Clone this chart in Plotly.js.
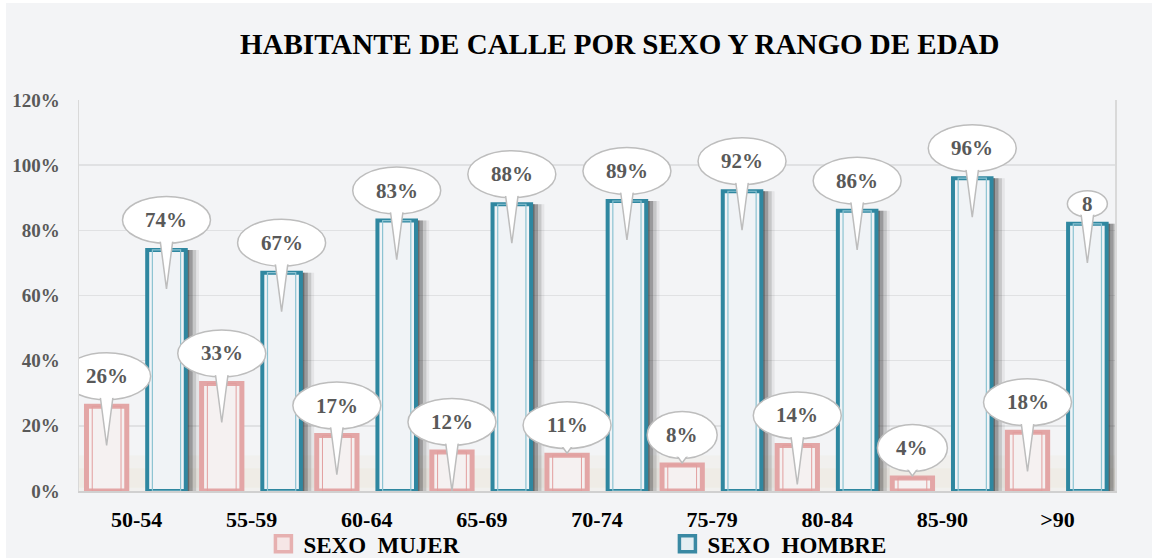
<!DOCTYPE html>
<html>
<head>
<meta charset="utf-8">
<script src="https://cdn.plot.ly/plotly-3.0.1.min.js"></script>
<style>html,body{margin:0;padding:0;background:#fff;}#chart{width:1152px;height:558px;}</style>
</head>
<body>
<div id="chart"></div>
<script>
// ---- data ----
const categories = ['50-54', '55-59', '60-64', '65-69', '70-74', '75-79', '80-84', '85-90', '>90'];
const mujer = [26, 33, 17, 12, 11, 8, 14, 4, 18];
const hombre = [74, 67, 83, 88, 89, 92, 86, 96, 82];
const mujerLabels = ['26%', '33%', '17%', '12%', '11%', '8%', '14%', '4%', '18%'];
const hombreLabels = ['74%', '67%', '83%', '88%', '89%', '92%', '86%', '96%', '8'];
const seriesNames = ['SEXO  MUJER', 'SEXO  HOMBRE'];

// ---- style ----
const FONT = 'Liberation Serif, DejaVu Serif, serif';
const pink = '#e3a6a6', pinkInner = '#e29e9e', pinkFill = '#f5f1f1';
const teal = '#2f87a0', tealInner = '#8cc3d2', tealFill = '#f0f3f6';
const mOff = -0.26, hOff = 0.26, mW = 0.35, hW = 0.335;
const mujerShortTail = [4, 5, 7];

const traces = [];
// shadows behind hombre bars
[[0.03, 'rgba(60,60,60,0.50)'], [0.06, 'rgba(60,60,60,0.32)'], [0.09, 'rgba(60,60,60,0.18)'], [0.115, 'rgba(60,60,60,0.08)']].forEach(function (s) {
  traces.push({
    type: 'bar', x: categories, y: hombre, showlegend: false, hoverinfo: 'skip',
    offset: hOff, width: hW / 2 + s[0],
    marker: {color: s[1], line: {width: 0}}
  });
});
traces.push({
  type: 'bar', name: seriesNames[0], x: categories, y: mujer, showlegend: false,
  offset: mOff - mW / 2, width: mW,
  marker: {color: pinkFill, line: {color: pink, width: 5}}
});
traces.push({
  type: 'bar', x: categories, y: mujer, showlegend: false, hoverinfo: 'skip',
  offset: mOff - mW / 2 + 0.05, width: mW - 0.1,
  marker: {color: 'rgba(0,0,0,0)', line: {color: pinkInner, width: 1}}
});
traces.push({
  type: 'bar', name: seriesNames[1], x: categories, y: hombre, showlegend: false,
  offset: hOff - hW / 2, width: hW,
  marker: {color: tealFill, line: {color: teal, width: 4}}
});
traces.push({
  type: 'bar', x: categories, y: hombre, showlegend: false, hoverinfo: 'skip',
  offset: hOff - hW / 2 + 0.045, width: hW - 0.09,
  marker: {color: 'rgba(0,0,0,0)', line: {color: tealInner, width: 1.2}}
});
// legend entries (symbols styled like the reference legend keys)
traces.push({type: 'scatter', mode: 'markers', name: seriesNames[0], x: [null], y: [null],
  marker: {symbol: 'square', size: 16, color: '#f6e6e6', line: {color: '#e6b0b0', width: 3.5}}});
traces.push({type: 'scatter', mode: 'markers', name: seriesNames[1], x: [null], y: [null],
  marker: {symbol: 'square', size: 16, color: '#e4eef2', line: {color: '#3a89a3', width: 3.5}}});

// background shapes
const shapes = [
  {type: 'rect', xref: 'paper', yref: 'paper', x0: -0.0705, x1: 1.04, y0: -0.18, y1: 1.248,
   fillcolor: '#f3f4f6', line: {width: 0}, layer: 'below'},
  {type: 'rect', xref: 'paper', yref: 'y', x0: 0, x1: 1, y0: 0, y1: 11,
   fillcolor: 'rgba(232,224,196,0.16)', line: {width: 0}, layer: 'below'},
  {type: 'rect', xref: 'paper', yref: 'y', x0: 0, x1: 1, y0: 1, y1: 7,
   fillcolor: 'rgba(232,224,196,0.18)', line: {width: 0}, layer: 'below'}
];
const annotations = [];

function addBubbles(values, labels, off, shortTail) {
  values.forEach(function (v, i) {
    const lab = labels[i];
    const xa = i + off;
    const tiny = lab.length < 2;
    const w = lab.length >= 3 ? 44 : (lab.length === 2 ? 35 : 20);
    const h = tiny ? 13 : 23.5;
    const cy = tiny ? 20 : 30;
    const isShort = shortTail.indexOf(i) >= 0;
    const tip = isShort ? cy - 28 : -39;
    const tw = isShort ? 9 : 7;
    const ttop = cy - h + 8;
    const base = {xref: 'x', yref: 'y', xsizemode: 'pixel', ysizemode: 'pixel', xanchor: xa, yanchor: v, layer: 'above'};
    shapes.push(Object.assign({}, base, {type: 'circle', x0: -w, x1: w, y0: cy - h, y1: cy + h,
      fillcolor: '#ffffff', line: {color: '#bdbdbd', width: 1.5}}));
    shapes.push(Object.assign({}, base, {type: 'path',
      path: 'M ' + (-tw) + ',' + ttop + ' L ' + tw + ',' + ttop + ' L 0,' + tip + ' Z',
      fillcolor: '#ffffff', line: {color: '#bdbdbd', width: 1.5}}));
    shapes.push(Object.assign({}, base, {type: 'circle', x0: -w + 1.5, x1: w - 1.5, y0: cy - h + 1.5, y1: cy + h - 1.5,
      fillcolor: '#ffffff', line: {width: 0}}));
    annotations.push({x: xa, y: v, xref: 'x', yref: 'y', yshift: cy, text: lab, showarrow: false,
      font: {family: FONT, size: 21, color: '#595959', weight: 'bold'}});
  });
}
addBubbles(mujer, mujerLabels, mOff, mujerShortTail);
addBubbles(hombre, hombreLabels, hOff, []);

const layout = {
  width: 1152, height: 558, autosize: false,
  margin: {l: 79, r: 37, t: 100, b: 67, autoexpand: false},
  paper_bgcolor: '#ffffff', plot_bgcolor: 'rgba(0,0,0,0)',
  barmode: 'overlay',
  title: {text: '<b>HABITANTE DE CALLE POR SEXO Y RANGO DE EDAD</b>', x: 0.538, xref: 'container', xanchor: 'center',
          y: 0.921, yref: 'container', yanchor: 'middle',
          font: {family: FONT, size: 29, color: '#000000'}},
  xaxis: {type: 'category', showgrid: false, showline: true, linecolor: '#d0d0d0', linewidth: 2,
          ticks: 'outside', ticklen: 8, tickcolor: 'rgba(0,0,0,0)', range: [-0.5, 8.5],
          tickfont: {family: FONT, size: 22, color: '#000000', weight: 'bold'}},
  yaxis: {range: [0, 120], dtick: 20, ticksuffix: '%', showgrid: true, gridcolor: '#e0e1e3', gridwidth: 1.5,
          showline: true, mirror: true, linecolor: '#d9d9d9', linewidth: 1.5, zeroline: false,
          ticks: 'outside', ticklen: 14, tickcolor: 'rgba(0,0,0,0)',
          tickfont: {family: FONT, size: 19, color: '#595959', weight: 'bold'}},
  legend: {orientation: 'h', x: 0.178, xanchor: 'left', y: -0.135, yanchor: 'middle',
           entrywidth: 359, entrywidthmode: 'pixels', bgcolor: 'rgba(0,0,0,0)',
           font: {family: FONT, size: 23, color: '#000000', weight: 'bold'}},
  shapes: shapes, annotations: annotations,
  showlegend: true
};
Plotly.newPlot('chart', traces, layout, {displayModeBar: false, staticPlot: true});
</script>
</body>
</html>
